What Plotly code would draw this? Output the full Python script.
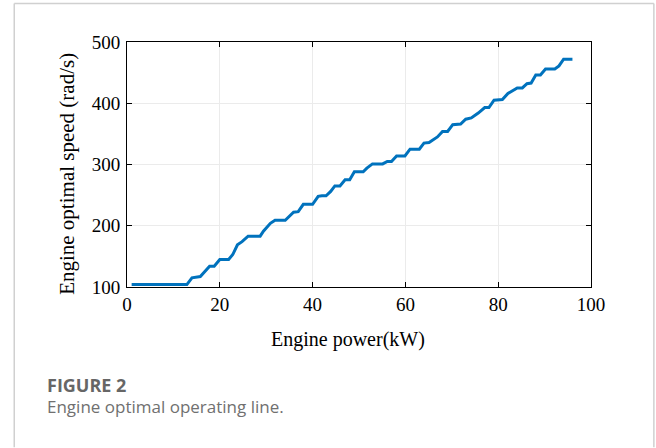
import plotly.graph_objects as go

power_kw = [1, 12.9, 14, 15.8, 17.8, 18.8, 20, 21.9, 22.8, 23.8, 24.8, 26.1, 28.7, 29.4,
            30.9, 31.9, 34.1, 34.8, 35.9, 36.9, 38.0, 40, 41.2, 42, 42.9, 43.9, 44.8, 45.9,
            47, 48, 49, 50.9, 51.7, 52.9, 55.1, 56.1, 57, 58.1, 59.9, 61, 63, 64, 65.1,
            66.9, 68, 69.1, 70.2, 71.9, 73, 74.2, 75.7, 77.1, 78, 79.1, 80.9, 82.1, 83,
            84.1, 85.2, 86.2, 87.1, 88.1, 89.1, 90.2, 92.2, 93.1, 94.1, 96]
speed_rad_s = [104, 104, 115, 117, 134, 134, 145, 145, 153, 169, 174, 183, 183, 191,
               204, 209, 209, 214, 222, 223, 235, 235, 248, 249, 249, 256, 265, 265,
               275, 275, 288, 288, 294, 301, 301, 305, 305, 314, 314, 325, 325, 335, 336,
               345, 354, 354, 365, 366, 374, 376, 384, 393, 393, 405, 406, 416, 420,
               425, 425, 432, 433, 446, 446, 456, 456, 461, 472, 472]

x_ticks = [0, 20, 40, 60, 80, 100]
y_ticks = [100, 200, 300, 400, 500]

W, H = 656, 448
L, R, T, B = 126.5, 591.5, 42, 287.5

def px(x):
    return (x - L) / (R - L)

def py(y):
    return (B - y) / (B - T)

fig = go.Figure()
fig.add_trace(go.Scatter(x=power_kw, y=speed_rad_s, mode="lines",
                         line=dict(color="#0072BD", width=3), showlegend=False))

axis_common = dict(showline=True, linecolor="black", linewidth=1, mirror="ticks",
                   ticks="inside", ticklen=5, tickcolor="black", showgrid=True,
                   gridcolor="#ebebeb", gridwidth=1, zeroline=False,
                   tickfont=dict(family="Liberation Serif", size=19, color="black"))

fig.update_xaxes(range=[0, 100], tickvals=x_ticks, ticktext=[str(v) for v in x_ticks],
                 **axis_common)
fig.update_yaxes(range=[100, 500], tickvals=y_ticks, ticktext=[str(v) for v in y_ticks],
                 ticklabelstandoff=2, **axis_common)

annotations = [
    dict(text="Engine power(kW)", x=px(348), y=py(340), xref="paper", yref="paper",
         showarrow=False, xanchor="center", yanchor="middle",
         font=dict(family="Liberation Serif", size=20, color="black")),
    dict(text="Engine optimal speed (rad/s)", x=px(67), y=py(174.5), xref="paper",
         yref="paper", showarrow=False, textangle=-90, xanchor="center", yanchor="middle",
         font=dict(family="Liberation Serif", size=21, color="black")),
    dict(text="<b>FIGURE 2</b>", x=px(44), y=py(386), xref="paper", yref="paper",
         showarrow=False, xanchor="left", yanchor="middle",
         font=dict(family="Open Sans", size=18, color="#666666")),
    dict(text="Engine optimal operating line.", x=px(44), y=py(407), xref="paper",
         yref="paper", showarrow=False, xanchor="left", yanchor="middle",
         font=dict(family="Open Sans", size=17, color="#707070")),
]

shapes = [
    dict(type="line", xref="paper", yref="paper", x0=px(13.5), x1=px(13.5), y0=py(3.5), y1=py(448),
         line=dict(color="#d0d0d0", width=1.5)),
    dict(type="line", xref="paper", yref="paper", x0=px(13.5), x1=px(654.5), y0=py(3.5), y1=py(3.5),
         line=dict(color="#d0d0d0", width=1.5)),
    dict(type="line", xref="paper", yref="paper", x0=px(654.5), x1=px(654.5), y0=py(3.5), y1=py(448),
         line=dict(color="#d0d0d0", width=1.5)),
]

fig.update_layout(width=W, height=H, autosize=False,
                  margin=dict(l=L, r=W - R, t=T, b=H - B, pad=0),
                  paper_bgcolor="white", plot_bgcolor="white",
                  annotations=annotations, shapes=shapes)

fig.write_html("out.html")
